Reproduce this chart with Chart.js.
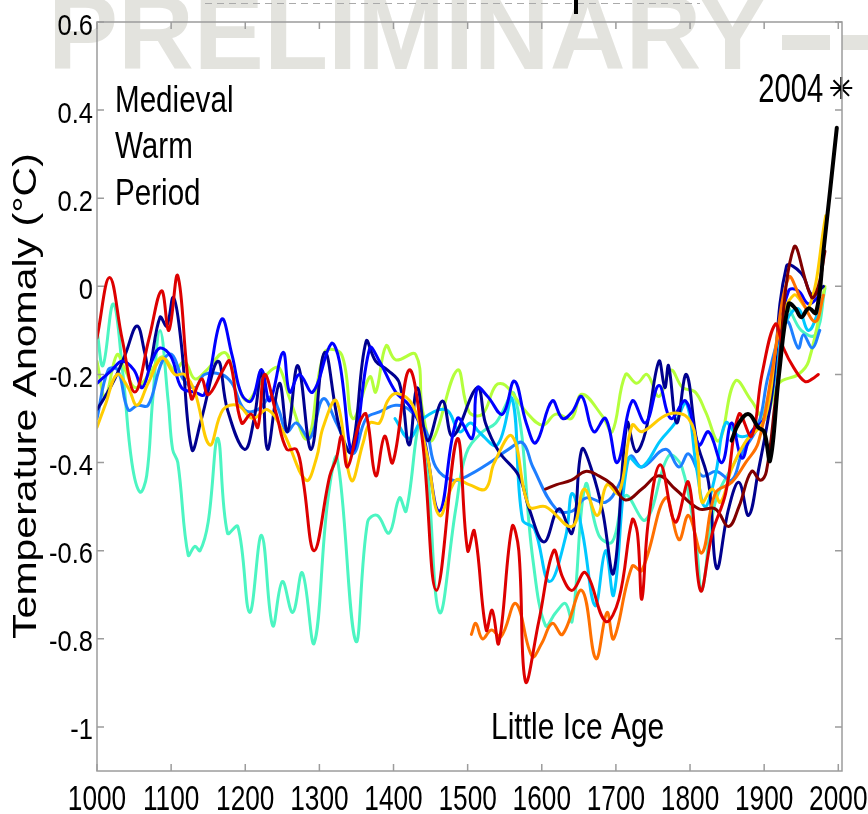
<!DOCTYPE html>
<html><head><meta charset="utf-8">
<script src="https://cdn.jsdelivr.net/npm/chart.js@4.4.1/dist/chart.umd.min.js"></script>
<style>html,body{margin:0;padding:0;background:#fff}</style>
</head><body>
<canvas id="c" width="868" height="814"></canvas>
<script>
// ---------- data (year, anomaly °C) ----------
const xTicks = [1000,1100,1200,1300,1400,1500,1600,1700,1800,1900,2000];
const yTicks = [0.6,0.4,0.2,0,-0.2,-0.4,-0.6,-0.8,-1];
const yTitle = 'Temperature Anomaly (°C)';
const labelMWP = ['Medieval','Warm','Period'];
const labelLIA = 'Little Ice Age';
const labelStar = '2004';
const starPoint = [[2004,0.45]];

const navySeries = [[1000,-0.28],[1011,-0.25],[1024,-0.21],[1038,-0.155],[1054,-0.09],[1065,-0.155],[1070,-0.19],[1085,-0.07],[1094,-0.09],[1103,-0.025],[1113,-0.12],[1128,-0.37],[1141,-0.3],[1163,-0.17],[1176,-0.28],[1199,-0.37],[1212,-0.3],[1222,-0.19],[1230,-0.37],[1246,-0.22],[1257,-0.33],[1271,-0.18],[1289,-0.37],[1307,-0.15],[1327,-0.32],[1343,-0.375],[1363,-0.125],[1376,-0.17],[1392,-0.19],[1408,-0.22],[1421,-0.36],[1432,-0.23],[1446,-0.35],[1466,-0.26],[1480,-0.34],[1513,-0.23],[1524,-0.31],[1542,-0.375],[1569,-0.43],[1583,-0.505],[1603,-0.58],[1623,-0.505],[1641,-0.56],[1654,-0.37],[1668,-0.42],[1682,-0.51],[1697,-0.65],[1715,-0.31],[1727,-0.375],[1740,-0.33],[1758,-0.17],[1766,-0.23],[1771,-0.18],[1782,-0.31],[1795,-0.2],[1809,-0.35],[1825,-0.445],[1836,-0.64],[1852,-0.505],[1866,-0.445],[1879,-0.52],[1892,-0.42],[1910,-0.25],[1930,0.045],[1950,0.03],[1965,-0.02],[1980,0.0]];
const blueSeries = [[1000,-0.22],[1020,-0.19],[1034,-0.17],[1050,-0.19],[1061,-0.23],[1074,-0.17],[1085,-0.14],[1100,-0.16],[1114,-0.23],[1132,-0.24],[1145,-0.245],[1168,-0.075],[1182,-0.155],[1195,-0.245],[1208,-0.26],[1222,-0.19],[1233,-0.26],[1251,-0.15],[1260,-0.24],[1273,-0.2],[1291,-0.24],[1316,-0.13],[1327,-0.17],[1345,-0.375],[1368,-0.14],[1381,-0.17],[1403,-0.24],[1421,-0.27],[1439,-0.33],[1462,-0.51],[1486,-0.3],[1506,-0.345],[1513,-0.23],[1527,-0.25],[1547,-0.29],[1563,-0.215],[1579,-0.31],[1592,-0.355],[1614,-0.26],[1628,-0.3],[1641,-0.285],[1654,-0.25],[1670,-0.33],[1686,-0.3],[1702,-0.4],[1722,-0.26],[1740,-0.31],[1758,-0.225],[1774,-0.3],[1794,-0.26],[1812,-0.36],[1825,-0.33],[1843,-0.4],[1856,-0.31],[1870,-0.39],[1883,-0.33],[1900,-0.3],[1915,-0.15],[1933,-0.01],[1946,-0.01],[1960,-0.04],[1975,-0.02]];
const dodgerSeries = [[1000,-0.3],[1015,-0.19],[1028,-0.19],[1042,-0.28],[1055,-0.27],[1069,-0.27],[1088,-0.17],[1101,-0.155],[1116,-0.21],[1132,-0.23],[1145,-0.2],[1168,-0.2],[1182,-0.22],[1199,-0.28],[1217,-0.28],[1235,-0.25],[1245,-0.28],[1256,-0.33],[1269,-0.31],[1287,-0.345],[1305,-0.255],[1323,-0.31],[1345,-0.38],[1363,-0.3],[1381,-0.285],[1403,-0.27],[1421,-0.28],[1444,-0.33],[1457,-0.41],[1480,-0.44],[1500,-0.43],[1530,-0.4],[1555,-0.37],[1574,-0.355],[1588,-0.41],[1619,-0.505],[1641,-0.51],[1660,-0.48],[1686,-0.49],[1704,-0.45],[1720,-0.385],[1735,-0.41],[1767,-0.37],[1785,-0.41],[1798,-0.38],[1816,-0.43],[1836,-0.42],[1856,-0.44],[1870,-0.38],[1892,-0.315],[1906,-0.2],[1930,-0.08],[1946,-0.14],[1953,-0.11],[1965,-0.14],[1975,-0.1]];
const cyanSeries = [[1402,-0.3],[1421,-0.345],[1440,-0.3],[1471,-0.28],[1489,-0.33],[1504,-0.31],[1515,-0.33],[1540,-0.36],[1560,-0.255],[1574,-0.53],[1590,-0.55],[1610,-0.67],[1632,-0.57],[1641,-0.47],[1655,-0.56],[1672,-0.725],[1686,-0.6],[1697,-0.7],[1717,-0.39],[1735,-0.41],[1760,-0.35],[1780,-0.31],[1795,-0.265],[1809,-0.415],[1820,-0.5],[1834,-0.43],[1848,-0.31],[1866,-0.34],[1885,-0.33],[1906,-0.28],[1925,-0.1],[1945,-0.05],[1960,-0.1],[1975,-0.05]];
const aquaSeries = [[1000,-0.1],[1008,-0.18],[1022,-0.04],[1035,-0.2],[1047,-0.4],[1058,-0.467],[1067,-0.43],[1075,-0.26],[1085,-0.1],[1096,-0.26],[1102,-0.37],[1109,-0.4],[1123,-0.61],[1132,-0.59],[1139,-0.6],[1150,-0.535],[1163,-0.345],[1176,-0.56],[1190,-0.545],[1206,-0.74],[1222,-0.565],[1237,-0.77],[1250,-0.67],[1264,-0.74],[1277,-0.65],[1293,-0.81],[1311,-0.49],[1324,-0.39],[1349,-0.805],[1365,-0.535],[1378,-0.52],[1394,-0.56],[1408,-0.48],[1417,-0.51],[1435,-0.31],[1445,-0.4],[1462,-0.74],[1484,-0.505],[1498,-0.38],[1520,-0.33],[1538,-0.31],[1563,-0.245],[1588,-0.62],[1605,-0.77],[1619,-0.74],[1632,-0.72],[1641,-0.76],[1659,-0.45],[1677,-0.565],[1695,-0.58],[1713,-0.475],[1740,-0.53],[1771,-0.385],[1789,-0.41],[1808,-0.58],[1816,-0.69],[1834,-0.49],[1860,-0.4],[1883,-0.33],[1901,-0.28],[1930,-0.05],[1950,-0.1],[1969,-0.11],[1982,-0.005]];
const limeSeries = [[1000,-0.17],[1011,-0.25],[1027,-0.155],[1038,-0.19],[1052,-0.23],[1070,-0.2],[1088,-0.16],[1105,-0.19],[1118,-0.17],[1132,-0.21],[1148,-0.19],[1172,-0.15],[1185,-0.2],[1202,-0.26],[1220,-0.22],[1235,-0.19],[1246,-0.185],[1260,-0.255],[1284,-0.345],[1307,-0.15],[1330,-0.155],[1345,-0.3],[1368,-0.205],[1376,-0.24],[1390,-0.135],[1403,-0.167],[1430,-0.155],[1439,-0.28],[1452,-0.35],[1486,-0.19],[1502,-0.285],[1520,-0.29],[1538,-0.225],[1551,-0.225],[1579,-0.285],[1601,-0.315],[1619,-0.29],[1640,-0.3],[1654,-0.245],[1682,-0.295],[1695,-0.33],[1713,-0.2],[1728,-0.22],[1742,-0.2],[1758,-0.25],[1774,-0.19],[1790,-0.23],[1807,-0.24],[1821,-0.285],[1839,-0.35],[1861,-0.215],[1883,-0.26],[1901,-0.3],[1920,-0.22],[1946,-0.2],[1960,-0.17],[1982,0.0]];
const goldSeries = [[1000,-0.32],[1011,-0.27],[1027,-0.2],[1042,-0.23],[1054,-0.27],[1069,-0.22],[1088,-0.163],[1105,-0.2],[1118,-0.2],[1132,-0.24],[1152,-0.36],[1170,-0.28],[1190,-0.27],[1210,-0.3],[1230,-0.28],[1251,-0.33],[1282,-0.44],[1296,-0.39],[1305,-0.32],[1323,-0.26],[1343,-0.44],[1359,-0.355],[1368,-0.31],[1381,-0.31],[1392,-0.26],[1405,-0.243],[1426,-0.27],[1445,-0.38],[1462,-0.52],[1484,-0.44],[1502,-0.45],[1524,-0.46],[1536,-0.4],[1560,-0.34],[1583,-0.5],[1605,-0.5],[1641,-0.545],[1657,-0.46],[1675,-0.52],[1688,-0.45],[1704,-0.47],[1722,-0.315],[1735,-0.33],[1771,-0.29],[1798,-0.3],[1810,-0.38],[1816,-0.49],[1830,-0.46],[1841,-0.49],[1856,-0.415],[1874,-0.355],[1901,-0.3],[1920,-0.1],[1940,-0.02],[1960,-0.05],[1983,0.16]];
const orangeSeries = [[1505,-0.79],[1511,-0.765],[1520,-0.8],[1532,-0.78],[1545,-0.795],[1565,-0.72],[1587,-0.84],[1600,-0.81],[1614,-0.765],[1628,-0.79],[1654,-0.69],[1673,-0.845],[1688,-0.74],[1697,-0.8],[1722,-0.635],[1735,-0.645],[1767,-0.48],[1785,-0.575],[1798,-0.52],[1816,-0.605],[1834,-0.47],[1856,-0.445],[1875,-0.4],[1892,-0.355],[1910,-0.2],[1933,0.02],[1950,-0.03],[1969,-0.08],[1980,-0.02]];
const redSeries = [[1000,-0.117],[1017,0.02],[1034,-0.12],[1051,-0.24],[1070,-0.12],[1087,-0.01],[1097,-0.1],[1109,0.024],[1127,-0.254],[1141,-0.21],[1150,-0.246],[1170,-0.19],[1179,-0.17],[1195,-0.31],[1208,-0.29],[1217,-0.32],[1226,-0.2],[1242,-0.29],[1256,-0.37],[1269,-0.37],[1278,-0.44],[1293,-0.6],[1314,-0.43],[1323,-0.39],[1330,-0.34],[1338,-0.41],[1354,-0.31],[1363,-0.29],[1376,-0.43],[1388,-0.34],[1399,-0.4],[1421,-0.19],[1439,-0.35],[1458,-0.69],[1486,-0.346],[1500,-0.6],[1509,-0.555],[1525,-0.78],[1533,-0.735],[1542,-0.81],[1560,-0.545],[1569,-0.6],[1578,-0.897],[1596,-0.76],[1616,-0.6],[1628,-0.66],[1641,-0.69],[1659,-0.65],[1686,-0.76],[1704,-0.71],[1722,-0.53],[1729,-0.56],[1735,-0.71],[1744,-0.53],[1760,-0.405],[1780,-0.535],[1798,-0.445],[1814,-0.69],[1830,-0.56],[1848,-0.47],[1866,-0.29],[1883,-0.34],[1897,-0.2],[1915,-0.086],[1926,-0.14],[1940,-0.185],[1955,-0.216],[1965,-0.21],[1973,-0.2]];
const darkredSeries = [[1605,-0.46],[1620,-0.45],[1640,-0.44],[1659,-0.42],[1677,-0.43],[1695,-0.45],[1713,-0.485],[1735,-0.46],[1758,-0.43],[1780,-0.46],[1812,-0.505],[1834,-0.505],[1852,-0.545],[1866,-0.5],[1883,-0.42],[1895,-0.44],[1903,-0.42],[1915,-0.26],[1940,0.088],[1964,-0.025],[1973,0.0],[1982,0.08]];
const instrumentalSeries = [[1856,-0.35],[1866,-0.31],[1879,-0.29],[1892,-0.32],[1900,-0.33],[1908,-0.395],[1920,-0.2],[1933,-0.04],[1942,-0.05],[1950,-0.07],[1960,-0.05],[1970,-0.06],[1980,0.08],[1998,0.36]];

// ---------- helpers ----------
const toXY = arr => arr.map(([x, y]) => ({x, y}));
const TEXT = '"Liberation Sans", Arial, sans-serif';

function line(label, data, color, width) {
  return {label, data: toXY(data), borderColor: color, backgroundColor: color,
          borderWidth: width || 3, pointRadius: 0, fill: false, tension: 0.4,
          borderCapStyle: 'round', borderJoinStyle: 'round'};
}

const datasets = [
  {label: '2004', data: toXY(starPoint), showLine: false, pointStyle: 'star',
   pointRadius: 11, borderColor: '#000', borderWidth: 2, clip: false},
  line('Instrumental', instrumentalSeries, '#000000', 4),
  line('Red', redSeries, '#dd0000'),
  line('Dark red', darkredSeries, '#800000'),
  line('Orange', orangeSeries, '#ff7000'),
  line('Gold', goldSeries, '#ffcc00'),
  line('Blue', blueSeries, '#0000ff'),
  line('Navy', navySeries, '#00008f'),
  line('Cyan', cyanSeries, '#00c8ff'),
  line('Dodger', dodgerSeries, '#1e7fff'),
  line('Lime', limeSeries, '#b4ff3c'),
  line('Aqua', aquaSeries, '#4cf5c2')
];

const fmtY = v => {
  const r = Math.round(v * 10) / 10;
  return r === 0 ? '0' : String(r);
};
const fmtX = v => String(v);

function scaledText(ctx, str, x, y, size, sx, align) {
  ctx.save();
  ctx.translate(x, y);
  ctx.scale(sx, 1);
  ctx.font = size + 'px ' + TEXT;
  ctx.textAlign = align || 'left';
  ctx.textBaseline = 'alphabetic';
  ctx.fillStyle = '#000';
  ctx.fillText(str, 0, 0);
  ctx.restore();
}

const decor = {
  id: 'decor',
  beforeDraw(chart) {
    const ctx = chart.ctx;
    ctx.save();
    ctx.fillStyle = '#fff';
    ctx.fillRect(0, 0, chart.width, chart.height);
    // watermark
    ctx.fillStyle = '#e3e3de';
    ctx.font = 'bold 105px ' + TEXT;
    ctx.textBaseline = 'alphabetic';
    ctx.textAlign = 'left';
    ctx.fillText('PRELIMINARY', 48, 69);
    ctx.fillRect(782, 35, 48, 15);
    ctx.fillRect(842, 35, 48, 15);
    // cut-off remains above the plot
    ctx.strokeStyle = '#aaa';
    ctx.lineWidth = 1;
    ctx.setLineDash([7, 5]);
    ctx.beginPath(); ctx.moveTo(205, 3.5); ctx.lineTo(700, 3.5); ctx.stroke();
    ctx.setLineDash([]);
    ctx.fillStyle = '#000';
    ctx.fillRect(574, 0, 4, 14);
    ctx.restore();
  },
  afterDraw(chart) {
    const ctx = chart.ctx, a = chart.chartArea;
    const xs = chart.scales.x, ys = chart.scales.y;
    ctx.save();
    // frame with inward ticks
    ctx.strokeStyle = '#9c9c9c';
    ctx.lineWidth = 1.5;
    ctx.strokeRect(a.left, a.top, a.right - a.left, a.bottom - a.top);
    ctx.beginPath();
    xs.ticks.forEach(t => {
      const px = xs.getPixelForValue(t.value);
      ctx.moveTo(px, a.bottom); ctx.lineTo(px, a.bottom - 7);
      ctx.moveTo(px, a.top); ctx.lineTo(px, a.top + 7);
    });
    ys.ticks.forEach(t => {
      const py = ys.getPixelForValue(t.value);
      ctx.moveTo(a.left, py); ctx.lineTo(a.left + 7, py);
      ctx.moveTo(a.right, py); ctx.lineTo(a.right - 7, py);
    });
    ctx.stroke();
    // tick labels (condensed like the reference)
    xs.ticks.forEach(t => {
      scaledText(ctx, fmtX(t.value), xs.getPixelForValue(t.value), a.bottom + 39, 35, 0.75, 'center');
    });
    ys.ticks.forEach(t => {
      scaledText(ctx, fmtY(t.value), a.left - 4, ys.getPixelForValue(t.value) + 12.5, 30, 0.85, 'right');
    });
    // y-axis title (rotated)
    ctx.save();
    ctx.translate(36, 396);
    ctx.rotate(-Math.PI / 2);
    ctx.scale(1, 0.82);
    ctx.font = '41px ' + TEXT;
    ctx.textAlign = 'center';
    ctx.textBaseline = 'alphabetic';
    ctx.fillStyle = '#000';
    ctx.fillText(yTitle, 0, 0);
    ctx.restore();
    // annotations
    scaledText(ctx, labelMWP[0], 115, 111.5, 37, 0.8);
    scaledText(ctx, labelMWP[1], 115, 158, 37, 0.8);
    scaledText(ctx, labelMWP[2], 115, 205, 37, 0.8);
    scaledText(ctx, labelLIA, 491, 739, 37, 0.81);
    const sx = xs.getPixelForValue(starPoint[0][0]);
    const sy = ys.getPixelForValue(starPoint[0][1]);
    scaledText(ctx, labelStar, sx - 18, sy + 13.5, 40, 0.73, 'right');
    ctx.restore();
  }
};

new Chart(document.getElementById('c'), {
  type: 'line',
  data: {datasets},
  options: {
    responsive: false,
    animation: false,
    devicePixelRatio: 1,
    layout: {padding: {top: 22, right: 26, left: 0, bottom: 0}},
    plugins: {legend: {display: false}, tooltip: {enabled: false}},
    scales: {
      x: {
        type: 'linear', min: 1000, max: 2005,
        grid: {display: false, drawTicks: false},
        border: {display: false},
        ticks: {display: false, autoSkip: false, callback: v => fmtX(v)},
        afterBuildTicks: s => { s.ticks = xTicks.map(v => ({value: v})); },
        afterFit: s => { s.height = 43; }
      },
      y: {
        type: 'linear', min: -1.1, max: 0.6,
        grid: {display: false, drawTicks: false},
        border: {display: false},
        ticks: {display: false, autoSkip: false, callback: v => fmtY(v)},
        afterBuildTicks: s => { s.ticks = yTicks.map(v => ({value: v})); },
        afterFit: s => { s.width = 97; }
      }
    }
  },
  plugins: [decor]
});
</script>
</body></html>
